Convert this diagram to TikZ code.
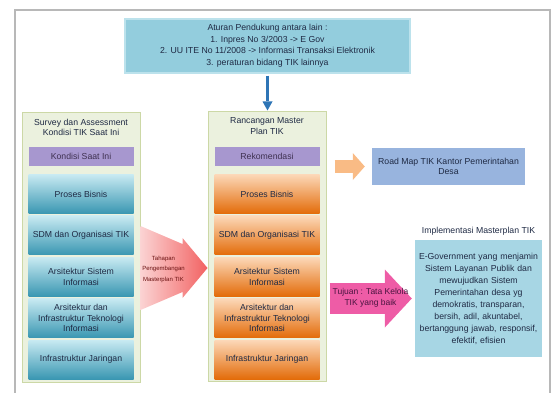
\documentclass[tikz,border=0pt]{standalone}
\usepackage{fontspec}
\setmainfont{Liberation Sans}
\usetikzlibrary{arrows.meta, positioning, calc}
\definecolor{framegray}{HTML}{B8B8B8}
\definecolor{rulesblue}{HTML}{93CDDD}
\definecolor{rulesedge}{HTML}{BCE2EC}
\definecolor{arrowblue}{HTML}{2E75B6}
\definecolor{panelgreen}{HTML}{EBF1DE}
\definecolor{paneledge}{HTML}{CCD8A6}
\definecolor{barpurple}{HTML}{A797CF}
\definecolor{bartext}{HTML}{3F3151}
\definecolor{nowtop}{HTML}{C8EAF2}
\definecolor{nowbottom}{HTML}{3A97B2}
\definecolor{plantop}{HTML}{FCD8B8}
\definecolor{planbottom}{HTML}{E36C0A}
\definecolor{roadorange}{HTML}{F9BB85}
\definecolor{roadblue}{HTML}{98B4DE}
\definecolor{tahaplight}{HTML}{FBD3D3}
\definecolor{tahapred}{HTML}{F26262}
\definecolor{tahaptext}{HTML}{6A1010}
\definecolor{goalpink}{HTML}{EE5CA6}
\definecolor{goaltext}{HTML}{4A1440}
\definecolor{implblue}{HTML}{A7D6E4}
\definecolor{boxtext}{HTML}{1F2A44}

\begin{document}
\begin{tikzpicture}[x=1pt, y=-1pt, node distance=2pt,
                    every node/.style={font=\fontsize{8.7}{10.5}\selectfont, text=boxtext},
                    rulesbox/.style={rectangle, draw=rulesedge, line width=1.5pt, fill=rulesblue, align=center, minimum width=285pt, minimum height=54pt, font=\fontsize{8.7}{11.5}\selectfont},
                    panel/.style={rectangle, draw=paneledge, line width=1pt, fill=panelgreen, minimum width=118pt, minimum height=269pt},
                    paneltitle/.style={align=center, inner sep=1pt},
                    headbar/.style={rectangle, fill=barpurple, text=bartext, minimum width=105pt, minimum height=19pt, inner sep=1pt},
                    nowbox/.style={rectangle, top color=nowtop, bottom color=nowbottom, align=center, minimum width=105pt, minimum height=39pt, inner sep=1pt},
                    planbox/.style={rectangle, top color=plantop, bottom color=planbottom, align=center, minimum width=105pt, minimum height=39pt, inner sep=1pt},
                    roadbox/.style={rectangle, fill=roadblue, align=center, minimum width=153pt, minimum height=37pt},
                    implbox/.style={rectangle, fill=implblue, align=center, text width=124pt, minimum height=117pt, inner sep=1.5pt, font=\fontsize{8.7}{12}\selectfont},
                    downarrow/.style={draw=arrowblue, line width=3.5pt, -{Triangle[width=10pt, length=9pt, line width=0pt]}, shorten <=2pt, shorten >=1pt},
                    roadarrow/.style={draw=roadorange, line width=13pt, -{Triangle[width=27pt, length=12pt, line width=0pt]}, shorten <=8pt, shorten >=7pt},
                    goalarrow/.style={draw=goalpink, line width=31pt, -{Triangle[width=58pt, length=27pt, line width=0pt]}, shorten <=3pt, shorten >=3pt},
                    tahapfill/.style={left color=tahaplight, right color=tahapred}]

    \useasboundingbox (0,0) rectangle (551,393);

    % page frame
    \draw[framegray, line width=2pt] (15,393) -- (15,10) -- (550,10) -- (550,393);

    % Main Nodes
    \node[rulesbox] (rules) at (267.5,46) {Aturan Pendukung antara lain :\\1. Inpres No 3/2003 -> E Gov\\2. UU ITE No 11/2008 -> Informasi Transaksi Elektronik\\3. peraturan bidang TIK lainnya};

    \node[panel] (survey) at (81,247.5) {};
    \node[panel] (plan) at (267,246.5) {};

    \node[paneltitle, below=5pt of survey.north] (surveytitle) {Survey dan Assessment\\Kondisi TIK Saat Ini};
    \node[paneltitle, below=5pt of plan.north] (plantitle) {Rancangan Master\\Plan TIK};

    \node[headbar] (nowbar) at (81,156.5) {Kondisi Saat Ini};
    \node[headbar] (planbar) at (267,156.5) {Rekomendasi};

    % current condition
    \node[nowbox, below=8pt of nowbar] (nowbiz) {Proses Bisnis};
    \node[nowbox, below=of nowbiz] (nowsdm) {SDM dan Organisasi TIK};
    \node[nowbox, below=of nowsdm] (nowsis) {Arsitektur Sistem\\Informasi};
    \node[nowbox, below=of nowsis] (nowtek) {Arsitektur dan\\Infrastruktur Teknologi\\Informasi};
    \node[nowbox, below=of nowtek] (nownet) {Infrastruktur Jaringan};

    % recommendation
    \node[planbox, below=8pt of planbar] (planbiz) {Proses Bisnis};
    \node[planbox, below=of planbiz] (plansdm) {SDM dan Organisasi TIK};
    \node[planbox, below=of plansdm] (plansis) {Arsitektur Sistem\\Informasi};
    \node[planbox, below=of plansis] (plantek) {Arsitektur dan\\Infrastruktur Teknologi\\Informasi};
    \node[planbox, below=of plantek] (plannet) {Infrastruktur Jaringan};

    % right side
    \node[roadbox] (roadmap) at (448.5,166.5) {Road Map TIK Kantor Pemerintahan\\Desa};
    \node[implbox] (impl) at (478.5,298.5) {E-Government yang menjamin\\Sistem Layanan Publik dan\\mewujudkan Sistem\\Pemerintahan desa yg\\demokratis, transparan,\\bersih, adil, akuntabel,\\bertanggung jawab, responsif,\\efektif, efisien};
    \node[above=1pt of impl] (impltitle) {Implementasi Masterplan TIK};

    % Connecting arrows
    \draw[downarrow] (rules.south) -- (rules.south |- plan.north);
    \draw[roadarrow] (plan.east |- roadmap.west) -- (roadmap.west);
    \draw[goalarrow] (plan.east |- impl.west) -- (impl.west);
    \node[text=goaltext, align=center, font=\fontsize{8.5}{11}\selectfont] (goal) at ($(plan.east |- impl.west)+(44,-1)$) {Tujuan : Tata Kelola\\TIK yang baik};

    \coordinate (tahaptail) at ($(survey.east)+(0,20.5)$);
    \coordinate (tahaptip) at (plan.west |- tahaptail);
    \path[tahapfill] ($(tahaptail)+(0,-42)$) -- ($(tahaptail)+(42,-24)$) -- ($(tahaptail)+(42,-30)$) -- (tahaptip)
        -- ($(tahaptail)+(42,30)$) -- ($(tahaptail)+(42,24)$) -- ($(tahaptail)+(0,42)$) -- cycle;
    \node[text=tahaptext, align=center, font=\fontsize{6}{10.5}\selectfont] (tahap) at ($(tahaptail)+(23,1)$) {Tahapan\\Pengembangan\\Masterplan TIK};

\end{tikzpicture}
\end{document}
